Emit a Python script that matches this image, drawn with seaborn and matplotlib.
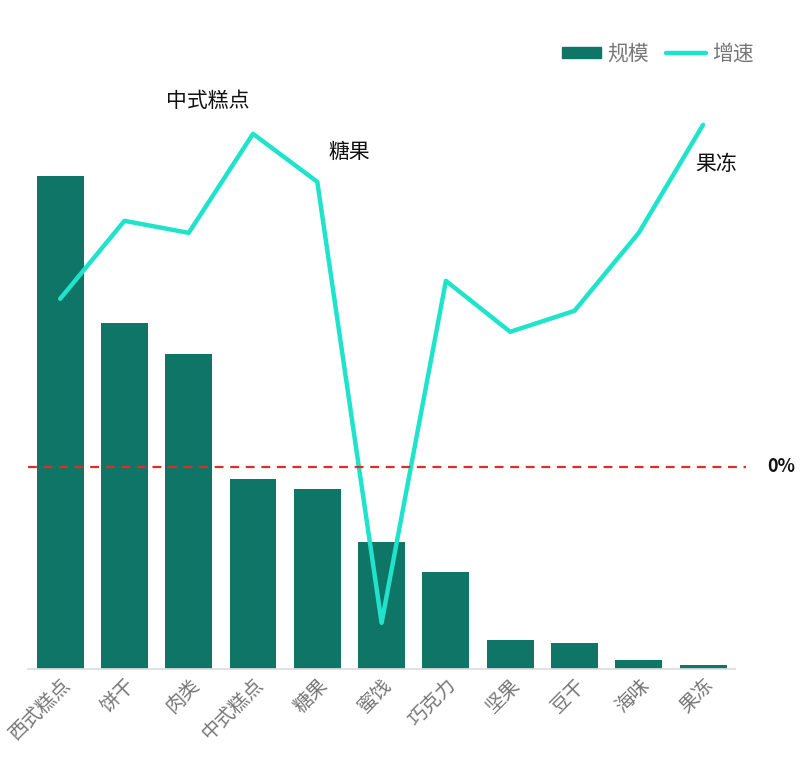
import matplotlib
matplotlib.use("Agg")
import matplotlib.pyplot as plt
import seaborn as sns
import pandas as pd
import numpy as np
from matplotlib.lines import Line2D
from matplotlib.patches import Patch

categories = ["西式糕点", "饼干", "肉类", "中式糕点", "糖果", "蜜饯", "巧克力", "坚果", "豆干", "海味", "果冻"]
scale = [493, 346, 315, 190, 180, 127, 97, 29, 26, 9, 4]
growth = [5.6, 8.2, 7.8, 11.1, 9.5, -5.2, 6.2, 4.5, 5.2, 7.8, 11.4]
annotated = ["中式糕点", "糖果", "果冻"]

sns.set_theme(style="white")
plt.rcParams['font.family'] = ['Noto Sans CJK SC', 'DejaVu Sans']

BAR = "#0E7567"
LINE = "#1FE3CB"

df = pd.DataFrame({"cat": categories, "scale": scale, "growth": growth})

fig = plt.figure(figsize=(8, 7.67), dpi=100)
ax = fig.add_axes([0.035, 0.128, 0.884, 0.794])
sns.barplot(data=df, x="cat", y="scale", color=BAR, width=0.73, ax=ax, saturation=1, linewidth=0)
ax.set_ylim(0, 609)
ax.set_xlim(-0.5, 10.5)
ax.set_xlabel("")
ax.set_ylabel("")
ax.set_yticks([])
for s in ["top", "right", "left"]:
    ax.spines[s].set_visible(False)
ax.spines["bottom"].set_color("#dddddd")
ax.tick_params(axis="x", length=0, pad=4)
ax.set_xticks(range(len(categories)))
ax.set_xticklabels(categories, rotation=45, ha="right", va="top",
                   rotation_mode="anchor", color="#777777", fontsize=14)

ax2 = ax.twinx()
sns.lineplot(x=np.arange(len(categories)), y=growth, color=LINE, linewidth=3.2, ax=ax2)
ax2.set_ylim(-6.733, 13.567)
ax2.set_yticks([])
for s in ["top", "right", "left", "bottom"]:
    ax2.spines[s].set_visible(False)
ax2.axhline(0, color="#D9302A", linestyle=(0, (4, 3)), linewidth=1.6, xmin=0, xmax=1.015, clip_on=False)
ax2.text(1.065, 0, "0%", transform=ax2.get_yaxis_transform(), ha="center", va="center",
         fontsize=13, fontweight="bold", color="#111111")

offsets = {"中式糕点": (-0.7, 1.1), "糖果": (0.5, 1.0), "果冻": (0.2, -1.3)}
for c in annotated:
    i = categories.index(c)
    dx, dy = offsets[c]
    ax2.text(i + dx, growth[i] + dy, c, ha="center", va="center", fontsize=15, color="#111111")

handles = [Patch(color=BAR), Line2D([0], [0], color=LINE, linewidth=3.2)]
fig.legend(handles, ["规模", "增速"], loc="center right", bbox_to_anchor=(0.955, 0.93),
           ncol=2, frameon=False, fontsize=15, handlelength=1.9, handleheight=0.45,
           columnspacing=0.8, handletextpad=0.3, labelcolor="#777777", borderpad=0)

fig.savefig("out.png", dpi=100)
